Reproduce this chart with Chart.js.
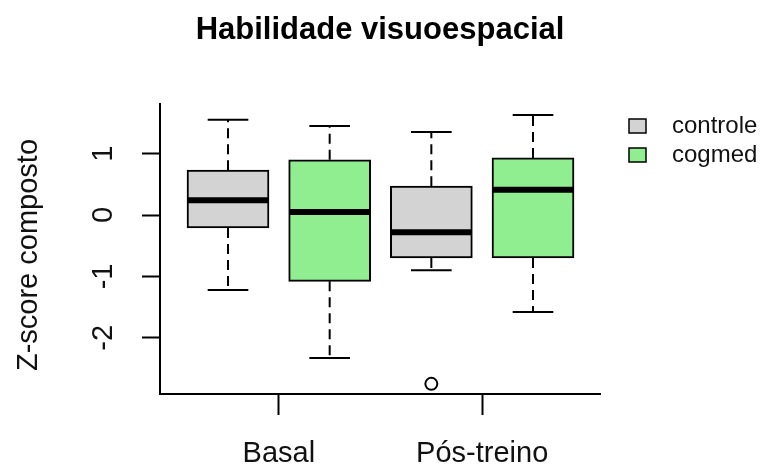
<!DOCTYPE html>
<html>
<head>
<meta charset="utf-8">
<script src="https://cdn.jsdelivr.net/npm/chart.js@4/dist/chart.umd.min.js"></script>
<style>
  html, body { margin: 0; padding: 0; background: #ffffff; }
  #wrap { width: 768px; height: 472px; }
</style>
</head>
<body>
<div id="wrap"><canvas id="chart" width="768" height="472"></canvas></div>
<script>
// categories and groups
const categories = ['Basal', 'Pós-treino'];
const groups = ['controle', 'cogmed'];
const groupColors = ['#d3d3d3', '#90ee90'];

// box positions on the x axis (1..4)
const controleX = [1, 3];
const cogmedX = [2, 4];

// five-number summaries
const controleMin = [-1.22, -0.90];
const controleQ1 = [-0.21, -0.70];
const controleMedian = [0.24, -0.28];
const controleQ3 = [0.73, 0.47];
const controleMax = [1.55, 1.35];

const cogmedMin = [-2.33, -1.58];
const cogmedQ1 = [-1.08, -0.70];
const cogmedMedian = [0.05, 0.41];
const cogmedQ3 = [0.90, 0.93];
const cogmedMax = [1.45, 1.63];

// outliers
const outlierX = [3];
const outlierY = [-2.75];

// ticks
const yTickValues = [-2, -1, 0, 1];
const xTickValues = [1.5, 3.5];

const FONT = "'Liberation Sans', Arial, sans-serif";
const TEXT = '#111111';

function boxData(xs, q1, q3) {
    return xs.map((x, i) => ({ x: x, y: [q1[i], q3[i]] }));
}

const boxes = [
    { xs: controleX, min: controleMin, med: controleMedian, max: controleMax, q1: controleQ1, q3: controleQ3 },
    { xs: cogmedX, min: cogmedMin, med: cogmedMedian, max: cogmedMax, q1: cogmedQ1, q3: cogmedQ3 }
];

const BOX_PX = 82;    // box width, pixels
const CAP_W = 0.40;   // staple width in x units

const boxPlugin = {
    id: 'boxPlugin',
    beforeDatasetsDraw(chart) {
        const ctx = chart.ctx;
        const xs = chart.scales.x;
        const ys = chart.scales.y;
        ctx.save();
        ctx.strokeStyle = '#000';
        ctx.lineWidth = 2;
        boxes.forEach(b => {
            b.xs.forEach((x, i) => {
                const px = xs.getPixelForValue(x);
                const c0 = xs.getPixelForValue(x - CAP_W / 2);
                const c1 = xs.getPixelForValue(x + CAP_W / 2);
                // whiskers
                ctx.setLineDash([10, 6]);
                ctx.beginPath();
                ctx.moveTo(px, ys.getPixelForValue(b.q3[i]));
                ctx.lineTo(px, ys.getPixelForValue(b.max[i]));
                ctx.moveTo(px, ys.getPixelForValue(b.q1[i]));
                ctx.lineTo(px, ys.getPixelForValue(b.min[i]));
                ctx.stroke();
                // staples
                ctx.setLineDash([]);
                ctx.beginPath();
                ctx.moveTo(c0, ys.getPixelForValue(b.max[i]));
                ctx.lineTo(c1, ys.getPixelForValue(b.max[i]));
                ctx.moveTo(c0, ys.getPixelForValue(b.min[i]));
                ctx.lineTo(c1, ys.getPixelForValue(b.min[i]));
                ctx.stroke();
            });
        });
        ctx.restore();
    },
    afterDatasetsDraw(chart) {
        const ctx = chart.ctx;
        const xs = chart.scales.x;
        const ys = chart.scales.y;
        ctx.save();
        // medians
        ctx.strokeStyle = '#000';
        ctx.lineWidth = 6;
        boxes.forEach(b => {
            b.xs.forEach((x, i) => {
                const y = ys.getPixelForValue(b.med[i]);
                const px = xs.getPixelForValue(x);
                ctx.beginPath();
                ctx.moveTo(px - BOX_PX / 2 + 1, y);
                ctx.lineTo(px + BOX_PX / 2 - 1, y);
                ctx.stroke();
            });
        });

        // y tick labels, rotated like R (las = 0)
        ctx.fillStyle = TEXT;
        ctx.font = '29px ' + FONT;
        ctx.textAlign = 'center';
        ctx.textBaseline = 'middle';
        ys.ticks.forEach(t => {
            const y = ys.getPixelForValue(t.value);
            ctx.save();
            ctx.translate(104, y);
            ctx.rotate(-Math.PI / 2);
            ctx.fillText(String(t.value), 0, 0);
            ctx.restore();
        });

        // y axis title
        ctx.save();
        ctx.translate(29, 255);
        ctx.rotate(-Math.PI / 2);
        ctx.fillText('Z-score composto', 0, 0);
        ctx.restore();

        // legend
        ctx.font = '24px ' + FONT;
        ctx.textAlign = 'left';
        groups.forEach((g, i) => {
            const cy = 126 + i * 29;
            ctx.fillStyle = groupColors[i];
            ctx.fillRect(629, cy - 7, 17, 14);
            ctx.strokeStyle = '#000';
            ctx.lineWidth = 1.5;
            ctx.strokeRect(629, cy - 7, 17, 14);
            ctx.fillStyle = TEXT;
            ctx.fillText(g, 672, cy);
        });
        ctx.restore();
    }
};

new Chart(document.getElementById('chart'), {
    type: 'bar',
    data: {
        datasets: [
            {
                label: groups[0],
                data: boxData(controleX, controleQ1, controleQ3),
                backgroundColor: groupColors[0],
                borderColor: '#000',
                borderWidth: 2,
                borderSkipped: false,
                barThickness: BOX_PX,
                grouped: false
            },
            {
                label: groups[1],
                data: boxData(cogmedX, cogmedQ1, cogmedQ3),
                backgroundColor: groupColors[1],
                borderColor: '#000',
                borderWidth: 2,
                borderSkipped: false,
                barThickness: BOX_PX,
                grouped: false
            },
            {
                type: 'scatter',
                label: 'outliers',
                data: outlierX.map((x, i) => ({ x: x, y: outlierY[i] })),
                pointRadius: 6,
                pointBackgroundColor: '#ffffff',
                pointBorderColor: '#000',
                pointBorderWidth: 2
            }
        ]
    },
    options: {
        responsive: false,
        animation: false,
        devicePixelRatio: 1,
        layout: { padding: { left: 0, right: 168, top: 0, bottom: 0 } },
        plugins: {
            legend: { display: false },
            tooltip: { enabled: false },
            title: {
                display: true,
                fullSize: false,
                text: 'Habilidade visuoespacial',
                color: '#000',
                font: { family: FONT, size: 31, weight: 'bold', lineHeight: 1.2 },
                padding: { top: 12, bottom: 54.8 }
            }
        },
        scales: {
            x: {
                type: 'linear',
                offset: false,
                min: 0.331,
                max: 4.659,
                afterBuildTicks: (scale) => { scale.ticks = xTickValues.map(v => ({ value: v })); },
                afterFit: (scale) => { scale.height = 78; },
                grid: {
                    offset: false,
                    drawOnChartArea: false,
                    drawTicks: true,
                    tickLength: 21,
                    tickWidth: 2,
                    tickColor: '#000'
                },
                border: { display: true, color: '#000', width: 2 },
                ticks: {
                    color: TEXT,
                    font: { family: FONT, size: 29 },
                    padding: 22,
                    maxRotation: 0,
                    callback: (value, index) => categories[index]
                }
            },
            y: {
                type: 'linear',
                min: -2.915,
                max: 1.808,
                afterBuildTicks: (scale) => { scale.ticks = yTickValues.map(v => ({ value: v })); },
                afterFit: (scale) => { scale.width = 160; },
                grid: {
                    drawOnChartArea: false,
                    drawTicks: true,
                    tickLength: 18,
                    tickWidth: 2,
                    tickColor: '#000'
                },
                border: { display: true, color: '#000', width: 2 },
                ticks: { display: false }
            }
        }
    },
    plugins: [boxPlugin]
});
</script>
</body>
</html>
